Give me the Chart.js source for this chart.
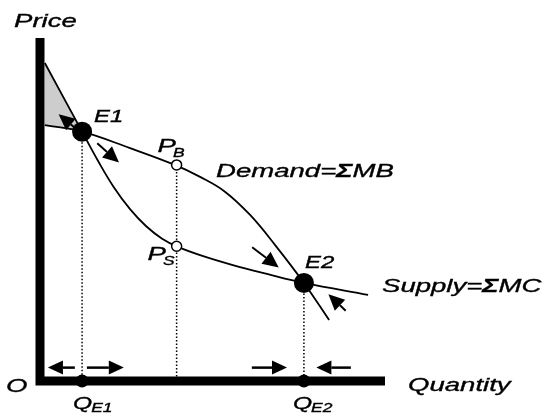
<!DOCTYPE html>
<html>
<head>
<meta charset="utf-8">
<script src="https://cdn.jsdelivr.net/npm/chart.js@4.4.1/dist/chart.umd.min.js"></script>
<style>
  html, body { margin: 0; padding: 0; background: #fff; }
  #wrap { width: 545px; height: 415px; }
</style>
</head>
<body>
<div id="wrap"><canvas id="externalityChart"></canvas></div>
<script>
// Demand = sum of marginal benefits
const demandQty   = [1.4, 12.2, 26.1, 39.1, 46.4, 53.6, 60.9, 68.1, 76.5, 83.8];
const demandPrice = [74.6, 72.7, 67.9, 63.0, 59.5, 55.2, 48.4, 39.7, 28.6, 17.8];
// Supply = sum of marginal costs
const supplyQty   = [1.4, 12.2, 16.8, 21.4, 26.1, 30.7, 35.4, 40.0, 46.4, 55.9, 65.8, 76.5, 95.1];
const supplyPrice = [92.7, 72.7, 64.2, 56.5, 50.1, 45.2, 41.5, 39.1, 36.7, 33.8, 31.2, 28.6, 25.1];
// E1, E2
const equilibriumQty   = [12.2, 76.5];
const equilibriumPrice = [72.7, 28.6];
// P_B (buyers) and P_S (sellers) at the intermediate quantity
const wedgeQty   = 39.6;
const wedgePrice = [63.0, 39.3];
// arrows along the curves: [quantity, price]
const curveArrowTails = [[9.9, 74.0], [16.6, 69.3], [61.5, 39.0], [88.6, 20.5]];
const curveArrowTips  = [[5.4, 77.8], [22.9, 63.7], [69.2, 33.1], [83.6, 25.3]];
// arrows just above the quantity axis
const axisArrowTails = [10.1, 13.6, 61.4, 90.1];
const axisArrowTips  = [2.3, 24.3, 71.6, 80.1];
const axisArrowPrice = 3.9;

const toPoints = (qs, ps) => qs.map((q, i) => ({ x: q, y: ps[i] }));

const STRETCH = 1.45; // the labels use a wide typeface
const FAMILY = "'Liberation Sans', Arial, sans-serif";
const bigFont = 'italic 19px ' + FAMILY;
const sigmaFont = 'italic bold 19px ' + FAMILY;
const eFont = 'italic 16.5px ' + FAMILY;
const qFont = 'italic 17px ' + FAMILY;
const subFont = 'italic 12px ' + FAMILY;

function wideText(ctx, parts, x, y) {
    let cx = x;
    parts.forEach(([str, font, dx, dy]) => {
        ctx.font = font;
        cx += dx || 0;
        ctx.save();
        ctx.translate(cx, y + (dy || 0));
        ctx.scale(STRETCH, 1);
        ctx.lineWidth = 0.35;
        ctx.fillText(str, 0, 0);
        ctx.strokeText(str, 0, 0);
        ctx.restore();
        cx += ctx.measureText(str).width * STRETCH;
    });
}

function arrow(ctx, x1, y1, x2, y2, head, half, width) {
    const a = Math.atan2(y2 - y1, x2 - x1);
    const bx = x2 - head * Math.cos(a), by = y2 - head * Math.sin(a);
    ctx.lineWidth = width;
    ctx.beginPath(); ctx.moveTo(x1, y1); ctx.lineTo(bx, by); ctx.stroke();
    ctx.beginPath();
    ctx.moveTo(x2, y2);
    ctx.lineTo(bx + half * Math.sin(a), by - half * Math.cos(a));
    ctx.lineTo(bx - half * Math.sin(a), by + half * Math.cos(a));
    ctx.closePath();
    ctx.fill();
}

const diagramPlugin = {
    id: 'diagram',
    beforeDatasetsDraw(chart) {
        const { ctx, scales: { x, y } } = chart;
        // shaded wedge between the two curves left of E1
        ctx.save();
        ctx.fillStyle = '#cdcdcd';
        ctx.beginPath();
        ctx.moveTo(x.getPixelForValue(supplyQty[0]), y.getPixelForValue(supplyPrice[0]));
        ctx.lineTo(x.getPixelForValue(equilibriumQty[0]), y.getPixelForValue(equilibriumPrice[0]));
        ctx.lineTo(x.getPixelForValue(demandQty[0]), y.getPixelForValue(demandPrice[0]));
        ctx.closePath();
        ctx.fill();
        ctx.restore();
    },
    afterDatasetsDraw(chart) {
        const { ctx, chartArea, scales: { x, y } } = chart;
        ctx.save();
        ctx.fillStyle = '#000';
        ctx.strokeStyle = '#000';
        ctx.lineCap = 'butt';
        curveArrowTails.forEach((t, i) => {
            const tip = curveArrowTips[i];
            arrow(ctx, x.getPixelForValue(t[0]), y.getPixelForValue(t[1]),
                x.getPixelForValue(tip[0]), y.getPixelForValue(tip[1]), 16, 7.5, 2);
        });
        axisArrowTails.forEach((t, i) => {
            const py = y.getPixelForValue(axisArrowPrice);
            arrow(ctx, x.getPixelForValue(t), py, x.getPixelForValue(axisArrowTips[i]), py, 15, 7, 2.5);
        });

        // labels
        ctx.textBaseline = 'alphabetic';
        const e1x = x.getPixelForValue(equilibriumQty[0]), e1y = y.getPixelForValue(equilibriumPrice[0]);
        const e2x = x.getPixelForValue(equilibriumQty[1]), e2y = y.getPixelForValue(equilibriumPrice[1]);
        const wx = x.getPixelForValue(wedgeQty);
        const pbY = y.getPixelForValue(wedgePrice[0]), psY = y.getPixelForValue(wedgePrice[1]);

        wideText(ctx, [['Price', bigFont]], chartArea.left - 26, chartArea.top - 11);
        wideText(ctx, [['Quantity', bigFont]], chartArea.right + 23, chartArea.bottom + 10);
        wideText(ctx, [['O', bigFont]], 6, chartArea.bottom + 11);
        wideText(ctx, [['E1', eFont]], e1x + 12, e1y - 10);
        wideText(ctx, [['E2', eFont]], e2x + 1, e2y - 15);
        wideText(ctx, [['P', bigFont], ['B', subFont, -3, 5]], wx - 19, pbY - 13);
        wideText(ctx, [['P', bigFont], ['S', subFont, -3, 5]], wx - 29, psY + 14);
        wideText(ctx, [['Demand=', bigFont], ['\u03A3', sigmaFont], ['MB', bigFont]], 216, 177);
        wideText(ctx, [['Supply=', bigFont], ['\u03A3', sigmaFont], ['MC', bigFont]], 382, 292);
        wideText(ctx, [['Q', qFont], ['E1', subFont, -1, 3]], e1x - 9, chartArea.bottom + 28);
        wideText(ctx, [['Q', qFont], ['E2', subFont, -1, 3]], e2x - 11, chartArea.bottom + 28);
        ctx.restore();
    }
};

const ctx = document.getElementById('externalityChart').getContext('2d');

const externalityChart = new Chart(ctx, {
    type: 'line',
    data: {
        datasets: [
            {
                label: 'Axes',
                data: [{ x: 0, y: 100 }, { x: 0, y: 0 }, { x: 100, y: 0 }],
                borderColor: '#000',
                borderWidth: 9,
                borderJoinStyle: 'miter',
                borderCapStyle: 'butt',
                pointRadius: 0,
                tension: 0,
                order: 0
            },
            {
                label: 'Equilibria',
                data: toPoints(equilibriumQty, equilibriumPrice),
                showLine: false,
                pointRadius: 10,
                pointBackgroundColor: '#000',
                pointBorderWidth: 0,
                order: 1
            },
            {
                label: 'Quantities',
                data: equilibriumQty.map(q => ({ x: q, y: 0 })),
                showLine: false,
                pointRadius: 6.5,
                pointBackgroundColor: '#000',
                pointBorderWidth: 0,
                order: 1
            },
            {
                label: 'P_B / P_S',
                data: wedgePrice.map(p => ({ x: wedgeQty, y: p })),
                showLine: false,
                pointRadius: 5,
                pointBackgroundColor: '#fff',
                pointBorderColor: '#000',
                pointBorderWidth: 1.5,
                order: 1
            },
            {
                label: 'Demand',
                data: toPoints(demandQty, demandPrice),
                borderColor: '#000',
                borderWidth: 1.8,
                pointRadius: 0,
                tension: 0.4,
                order: 3
            },
            {
                label: 'Supply',
                data: toPoints(supplyQty, supplyPrice),
                borderColor: '#000',
                borderWidth: 1.8,
                pointRadius: 0,
                tension: 0.4,
                order: 3
            },
            {
                label: 'Q_E1 drop',
                data: [{ x: equilibriumQty[0], y: equilibriumPrice[0] }, { x: equilibriumQty[0], y: 0 }],
                borderColor: '#000', borderWidth: 1.5, borderDash: [1.5, 2], pointRadius: 0, order: 4
            },
            {
                label: 'wedge drop',
                data: [{ x: wedgeQty, y: wedgePrice[0] }, { x: wedgeQty, y: 0 }],
                borderColor: '#000', borderWidth: 1.5, borderDash: [1.5, 2], pointRadius: 0, order: 4
            },
            {
                label: 'Q_E2 drop',
                data: [{ x: equilibriumQty[1], y: equilibriumPrice[1] }, { x: equilibriumQty[1], y: 0 }],
                borderColor: '#000', borderWidth: 1.5, borderDash: [1.5, 2], pointRadius: 0, order: 4
            }
        ]
    },
    options: {
        responsive: true,
        maintainAspectRatio: false,
        animation: false,
        clip: false,
        layout: { padding: { left: 40, right: 160, top: 38, bottom: 34 } },
        plugins: { legend: { display: false }, tooltip: { enabled: false } },
        elements: { line: { fill: false } },
        scales: {
            x: { type: 'linear', min: 0, max: 100, display: false },
            y: { type: 'linear', min: 0, max: 100, display: false }
        }
    },
    plugins: [diagramPlugin]
});
</script>
</body>
</html>
